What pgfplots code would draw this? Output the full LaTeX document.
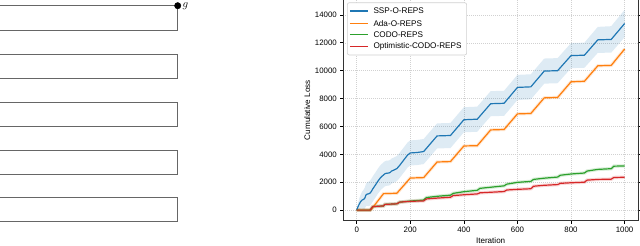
\documentclass[border=0pt]{standalone}
\usepackage{pgfplots}
\pgfplotsset{compat=1.18}
\usepackage{pgfplotstable}
\usepackage{fontspec}
\setmainfont{Liberation Sans}
\definecolor{tabblue}{HTML}{1F77B4}
\definecolor{taborange}{HTML}{FF7F0E}
\definecolor{tabgreen}{HTML}{2CA02C}
\definecolor{tabred}{HTML}{D62728}
\definecolor{mazegray}{HTML}{666666}
\definecolor{legedge}{HTML}{D0D0D0}

% SSP-O-REPS mean
\pgfplotstableread{
x m
0 0
5 250
10 450
15 620
20 720
25 760
30 850
35 1100
40 1150
45 1170
50 1220
55 1350
60 1520
70 1800
80 2100
90 2350
100 2520
105 2600
110 2640
120 2660
125 2700
130 2800
140 2880
150 2980
160 3200
170 3450
180 3700
190 3950
200 4100
225 4130
250 4200
300 5320
350 5350
400 6480
450 6520
500 7630
550 7660
600 8800
650 8840
700 9970
750 10000
800 11080
850 11110
900 12210
950 12240
1000 13380
}\blueT

% SSP-O-REPS band: upper edge forward, lower edge backward
\pgfplotstableread{
x y
0 0
5 500
10 850
15 1120
20 1320
25 1440
30 1600
35 1900
40 2000
45 2050
50 2120
55 2250
60 2420
70 2700
80 3000
90 3250
100 3420
105 3500
110 3540
120 3560
125 3600
130 3700
140 3780
150 3880
160 4100
170 4350
180 4600
190 4850
200 5000
225 5030
250 5100
300 6220
350 6250
400 7380
450 7420
500 8530
550 8560
600 9700
650 9740
700 10870
750 10900
800 11980
850 12010
900 13140
950 13190
1000 14360
1000 12400
950 11290
900 11280
850 10210
800 10180
750 9100
700 9070
650 7940
600 7900
550 6760
500 6730
450 5620
400 5580
350 4450
300 4420
250 3300
225 3230
200 3200
190 3050
180 2800
170 2550
160 2300
150 2080
140 1980
130 1900
125 1800
120 1760
110 1740
105 1700
100 1620
90 1450
80 1200
70 900
60 620
55 450
50 320
45 290
40 300
35 300
30 100
25 80
20 120
15 120
10 50
5 0
}\blueband

\pgfplotstableread{
x m
0 0
50 0
55 60
100 1180
150 1210
200 2300
250 2330
300 3450
350 3480
400 4600
450 4620
500 5750
550 5780
600 6900
650 6930
700 8050
750 8080
800 9200
850 9240
900 10350
950 10380
1000 11550
}\orangeT

\pgfplotstableread{
x m
0 0
50 0
60 250
100 300
105 410
150 450
160 570
200 650
250 720
260 900
300 990
350 1070
360 1200
400 1320
450 1420
460 1560
500 1640
550 1740
560 1860
600 1990
650 2060
660 2200
700 2290
750 2370
760 2500
800 2590
850 2660
860 2800
900 2920
950 2970
960 3150
1000 3170
}\greenT

\pgfplotstableread{
x m
0 0
50 0
60 250
100 300
105 410
150 450
160 570
200 630
250 660
260 800
300 860
350 920
360 1040
400 1100
450 1160
460 1240
500 1280
550 1330
560 1440
600 1490
650 1530
660 1710
700 1780
750 1830
760 1920
800 1960
850 2000
860 2150
900 2200
950 2220
960 2340
1000 2355
}\redT

\begin{document}
\begin{tikzpicture}

% chart
\begin{axis}[
  at={(343.3bp,25.3bp)}, anchor=south west,
  scale only axis, width=294.7bp, height=221bp,
  xmin=-50, xmax=1050, ymin=-760, ymax=15090,
  xtick={0,200,...,1000}, ytick={0,2000,...,14000},
  scaled y ticks=false, scaled x ticks=false,
  /pgf/number format/1000 sep={},
  /pgf/number format/assume math mode=true,
  tick align=outside, major tick length=3bp,
  tick style={black, line width=0.6bp},
  axis line style={black!80, line width=0.8bp},
  xmajorgrids, ymajorgrids,
  major grid style={black!18, line width=0.5bp, dash pattern=on 1bp off 1bp},
  ticklabel style={font=\fontsize{7.9}{9}\selectfont},
  xlabel={Iteration}, ylabel={Cumulative Loss},
  label style={font=\fontsize{8.1}{9}\selectfont},
  xlabel style={at={(axis description cs:0.5,-0.0905)}, anchor=center},
  ylabel style={at={(axis description cs:-0.1222,0.5)}, anchor=center},
  clip mode=individual,
]
\addplot[fill=tabblue, fill opacity=0.15, draw=none, forget plot] table[x=x, y=y] {\blueband} -- cycle;
\addplot[draw=taborange, opacity=0.18, line width=3.2bp, forget plot] table[x=x, y=m] {\orangeT};
\addplot[draw=tabgreen, opacity=0.18, line width=3.4bp, forget plot] table[x=x, y=m] {\greenT};
\addplot[draw=tabred, opacity=0.18, line width=3.4bp, forget plot] table[x=x, y=m] {\redT};

\addplot[color=tabblue, line width=1.2bp, mark=none, forget plot] table[x=x, y=m] {\blueT};
\addplot[color=taborange, line width=1.2bp, mark=none, forget plot] table[x=x, y=m] {\orangeT};
\addplot[color=tabgreen, line width=1.2bp, mark=none, forget plot] table[x=x, y=m] {\greenT};
\addplot[color=tabred, line width=1.2bp, mark=none, forget plot] table[x=x, y=m] {\redT};

% legend
\draw[legedge, fill=white, rounded corners=2bp, line width=0.6bp]
  (axis description cs:0.0136,0.7498) rectangle (axis description cs:0.4187,0.9864);
\draw[tabblue, line width=1.2bp] (axis description cs:0.0227,0.9489) -- (axis description cs:0.0849,0.9489);
\draw[taborange, line width=1.2bp] (axis description cs:0.0227,0.8932) -- (axis description cs:0.0849,0.8932);
\draw[tabgreen, line width=1.2bp] (axis description cs:0.0227,0.8434) -- (axis description cs:0.0849,0.8434);
\draw[tabred, line width=1.2bp] (axis description cs:0.0227,0.7873) -- (axis description cs:0.0849,0.7873);
\begin{scope}[every node/.style={anchor=west, inner sep=0pt, font=\fontsize{8.2}{9}\selectfont}]
\node at (axis description cs:0.1018,0.9489) {SSP-O-REPS};
\node at (axis description cs:0.1018,0.8932) {Ada-O-REPS};
\node at (axis description cs:0.1018,0.8434) {CODO-REPS};
\node at (axis description cs:0.1018,0.7873) {Optimistic-CODO-REPS};
\end{scope}
\end{axis}

% maze
\begin{axis}[
  at={(0bp,0bp)}, anchor=south west,
  scale only axis, width=200bp, height=246bp,
  xmin=0, xmax=200, ymin=0, ymax=246,
  hide axis, clip=false,
]
\addplot[mazegray, line width=0.9bp, forget plot] coordinates {(0,240.3) (177.7,240.3) (177.7,216) (0,216)};
\addplot[mazegray, line width=0.9bp, forget plot] coordinates {(0,192) (177.7,192) (177.7,167.7) (0,167.7)};
\addplot[mazegray, line width=0.9bp, forget plot] coordinates {(0,144) (177.7,144) (177.7,120) (0,120)};
\addplot[mazegray, line width=0.9bp, forget plot] coordinates {(0,96) (177.7,96) (177.7,72) (0,72)};
\addplot[mazegray, line width=0.9bp, forget plot] coordinates {(0,48.3) (177.7,48.3) (177.7,24.3) (0,24.3)};
\addplot[only marks, mark=*, mark size=3.2bp, black, forget plot] coordinates {(177.7,240.3)};
\node[anchor=west, inner sep=0pt, font=\fontsize{11}{12}\selectfont] at (axis cs:182.5,239.3) {$g$};
\end{axis}
\pgfresetboundingbox
\path[use as bounding box] (0bp,0bp) rectangle (640bp,246bp);
\end{tikzpicture}
\end{document}
